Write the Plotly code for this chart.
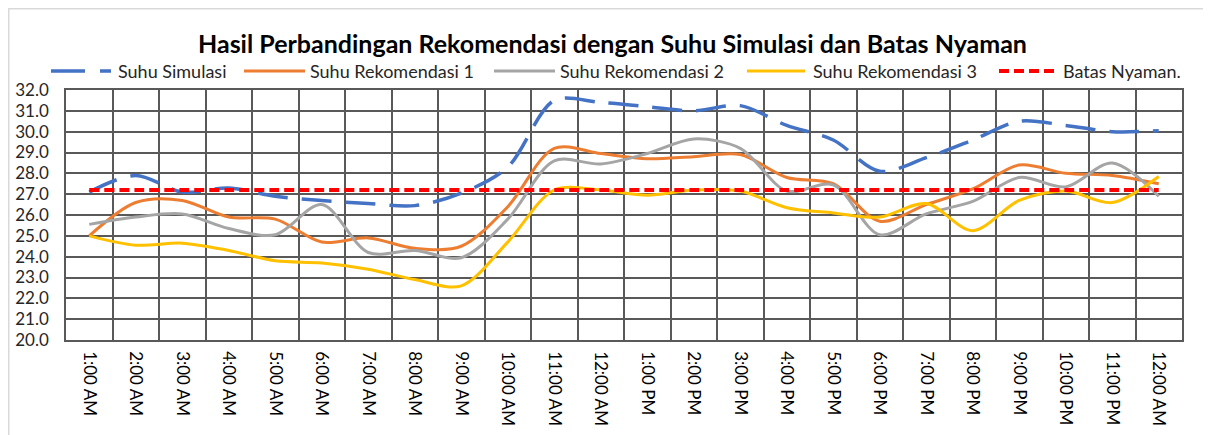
import plotly.graph_objects as go

hours = ["1:00 AM", "2:00 AM", "3:00 AM", "4:00 AM", "5:00 AM", "6:00 AM", "7:00 AM",
         "8:00 AM", "9:00 AM", "10:00 AM", "11:00 AM", "12:00 AM ", "1:00 PM", "2:00 PM",
         "3:00 PM", "4:00 PM", "5:00 PM", "6:00 PM", "7:00 PM", "8:00 PM", "9:00 PM",
         "10:00 PM", "11:00 PM", "12:00 AM"]

suhu_simulasi = [27.1, 27.9, 27.1, 27.3, 26.9, 26.7, 26.55, 26.45, 27.05, 28.3, 31.5, 31.4,
                 31.2, 31.0, 31.25, 30.3, 29.6, 28.1, 28.75, 29.6, 30.5, 30.3, 30.0, 30.05]
suhu_rek1 = [25.0, 26.6, 26.7, 25.9, 25.8, 24.7, 24.9, 24.4, 24.5, 26.4, 29.2, 28.95,
             28.7, 28.8, 28.9, 27.8, 27.5, 25.7, 26.5, 27.25, 28.4, 28.0, 27.9, 27.5]
suhu_rek2 = [25.55, 25.9, 26.05, 25.35, 25.05, 26.5, 24.2, 24.3, 23.95, 25.8, 28.6, 28.45,
             28.95, 29.65, 29.2, 27.15, 27.45, 25.05, 26.05, 26.65, 27.8, 27.35, 28.5, 26.9]
suhu_rek3 = [25.0, 24.55, 24.65, 24.3, 23.8, 23.7, 23.4, 22.9, 22.6, 24.7, 27.2, 27.2,
             26.95, 27.2, 27.15, 26.35, 26.1, 25.9, 26.55, 25.25, 26.7, 27.15, 26.6, 27.85]
batas_nyaman = [27.2] * 24

series_names = ["Suhu Simulasi", "Suhu Rekomendasi 1", "Suhu Rekomendasi 2",
                "Suhu Rekomendasi 3", "Batas Nyaman."]
series_values = [suhu_simulasi, suhu_rek1, suhu_rek2, suhu_rek3, batas_nyaman]
colors = ["#4472C4", "#ED7D31", "#A5A5A5", "#FFC000", "#FF0000"]
line_dash = ["30px,14px", "solid", "solid", "solid", "10px,5px"]
legend_dash = ["34px,15px", "solid", "solid", "solid", "10px,5px"]
line_widths = [3.5, 3, 3, 3, 4]

FONT = "Lato"

# plot area in window pixels: x 66..1182, y 90..340
PL, PR, PT, PB = 66.0, 1182.0, 90.0, 340.0
def px_x(wx):
    return (wx - PL) / (PR - PL)
def px_y(wy):
    return (PB - wy) / (PB - PT)

fig = go.Figure()
for name, vals, color, dash, w in zip(series_names, series_values, colors, line_dash, line_widths):
    fig.add_trace(go.Scatter(
        x=hours, y=vals, name=name, mode="lines",
        line=dict(color=color, width=w, dash=dash, shape="spline", smoothing=0.9),
        showlegend=False,
    ))

# page body has an 8px margin, so the figure is 8px smaller than the window
fig.update_layout(
    width=1203, height=427,
    margin=dict(l=58, r=29, t=82, b=95),
    paper_bgcolor="white", plot_bgcolor="white",
    font=dict(family=FONT, color="#262626"),
    showlegend=False,
)

# title
fig.add_annotation(text="<b>Hasil Perbandingan Rekomendasi dengan Suhu Simulasi dan Batas Nyaman</b>",
                   xref="paper", yref="paper", x=px_x(612), y=px_y(43),
                   xanchor="center", yanchor="middle", showarrow=False,
                   font=dict(size=25, color="#000000", family=FONT))

# manual legend (Excel style)
legend_sym = [(51, 111), (244, 305), (494, 555), (747, 805), (999, 1057)]
legend_txt = [116, 308, 558, 811, 1061]
ly = px_y(71)
for name, color, dash, w, (s0, s1), tx in zip(series_names, colors, legend_dash, line_widths,
                                              legend_sym, legend_txt):
    fig.add_shape(type="line", xref="paper", yref="paper",
                  x0=px_x(s0), x1=px_x(s1), y0=ly, y1=ly,
                  line=dict(color=color, width=w, dash=dash))
    fig.add_annotation(text=name, xref="paper", yref="paper", x=px_x(tx), y=ly,
                       xanchor="left", yanchor="middle", showarrow=False,
                       font=dict(size=18, color="#262626", family=FONT))

fig.update_xaxes(
    type="category", tickson="boundaries", tickangle=90, automargin=False,
    showgrid=True, gridcolor="#595959", gridwidth=1.5,
    showline=True, linecolor="#595959", linewidth=1.5, mirror=True,
    ticks="", ticklabelstandoff=6,
    tickfont=dict(size=17, color="#000000", family=FONT),
    range=[-0.5, 23.5],
)
fig.update_yaxes(
    range=[20, 32], dtick=1, tickformat=".1f", automargin=False,
    showgrid=True, gridcolor="#595959", gridwidth=1.5,
    showline=True, linecolor="#595959", linewidth=1.5, mirror=True,
    ticks="", ticklabelstandoff=12,
    tickfont=dict(size=17, color="#262626", family=FONT),
    zeroline=False,
)

# chart-area border (light gray)
fig.add_shape(type="rect", xref="paper", yref="paper",
              x0=px_x(8.5), x1=px_x(1300), y0=px_y(500), y1=px_y(8.5),
              line=dict(color="#D9D9D9", width=2), fillcolor="rgba(0,0,0,0)", layer="below")

fig.write_html("out.html")
